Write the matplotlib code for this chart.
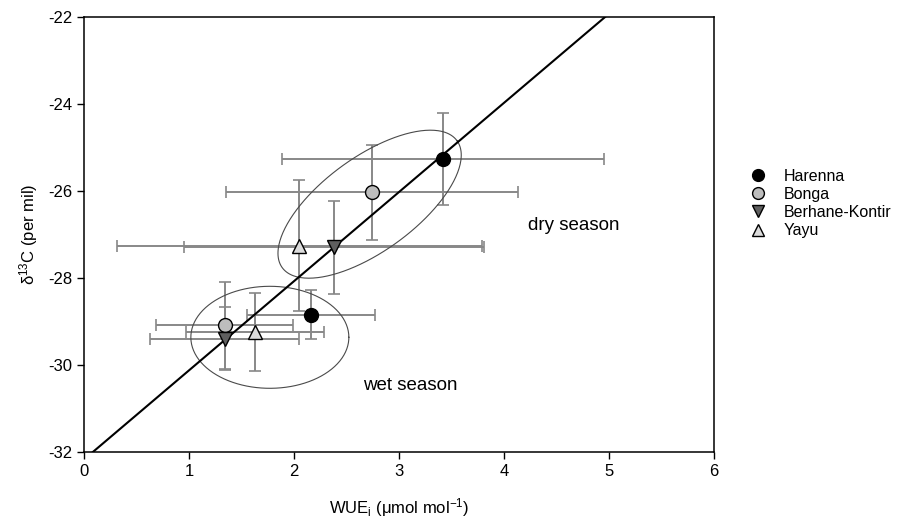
import numpy as np
import matplotlib
matplotlib.use("Agg")
import matplotlib.pyplot as plt

plt.rcParams["font.family"] = ["Liberation Sans", "DejaVu Sans"]
plt.rcParams["mathtext.fontset"] = "custom"
plt.rcParams["mathtext.rm"] = "Liberation Sans"
plt.rcParams["mathtext.it"] = "Liberation Sans"
plt.rcParams["axes.unicode_minus"] = False

# --- data ---
sites = ["Harenna", "Bonga", "Berhane-Kontir", "Yayu"]

dry_wue = [3.42, 2.74, 2.38, 2.05]
dry_wue_err = [1.53, 1.39, 1.43, 1.74]
dry_d13c = [-25.28, -26.04, -27.30, -27.26]
dry_d13c_err = [1.06, 1.09, 1.07, 1.50]

wet_wue = [2.16, 1.34, 1.34, 1.63]
wet_wue_err = [0.61, 0.65, 0.71, 0.66]
wet_d13c = [-28.85, -29.09, -29.40, -29.25]
wet_d13c_err = [0.57, 1.00, 0.72, 0.89]

# regression line
slope = 2.05
intercept = -32.18

marker_styles = {
    "Harenna": dict(marker="o", mfc="black"),
    "Bonga": dict(marker="o", mfc="#bdbdbd"),
    "Berhane-Kontir": dict(marker="v", mfc="#5f5f5f"),
    "Yayu": dict(marker="^", mfc="#dcdcdc"),
}

fig = plt.figure(figsize=(9.05, 5.25), dpi=100)
ax = fig.add_axes([0.0928, 0.1396, 0.6962, 0.8286])

# error bars
for xs, xe, ys, ye in [(dry_wue, dry_wue_err, dry_d13c, dry_d13c_err),
                       (wet_wue, wet_wue_err, wet_d13c, wet_d13c_err)]:
    ax.errorbar(xs, ys, xerr=xe, yerr=ye, fmt="none", ecolor="#888888",
                elinewidth=1.4, capsize=4, capthick=1.2, zorder=2)

# regression line
xl = np.array([0.0, 6.0])
ax.plot(xl, intercept + slope * xl, color="black", lw=1.5, zorder=3)

# season ellipses, sized in screen pixels (105 px per x unit, 43.5 px per y unit)
def ellipse(cx, cy, a_px, b_px, angle_deg):
    t = np.linspace(0, 2 * np.pi, 300)
    th = np.deg2rad(angle_deg)
    dx = a_px * np.cos(t) * np.cos(th) - b_px * np.sin(t) * np.sin(th)
    dy = a_px * np.cos(t) * np.sin(th) + b_px * np.sin(t) * np.cos(th)
    ax.plot(cx + dx / 105.0, cy + dy / 43.5, color="#4a4a4a", lw=0.8, zorder=2)

ellipse(2.72, -26.31, 108, 47, 36)
ellipse(1.77, -29.37, 79, 51, 0)

# markers
for i, s in enumerate(sites):
    st = marker_styles[s]
    ax.plot([dry_wue[i], wet_wue[i]], [dry_d13c[i], wet_d13c[i]], ls="none",
            marker=st["marker"], mfc=st["mfc"], mec="black", mew=1.0,
            ms=10, label=s, zorder=4)

ax.text(4.23, -26.81, "dry season", ha="left", va="center", fontsize=13.5)
ax.text(2.66, -30.47, "wet season", ha="left", va="center", fontsize=13.5)

ax.set_xlim(0, 6)
ax.set_ylim(-32, -22)
ax.set_xticks(range(0, 7))
ax.set_yticks(range(-32, -21, 2))
ax.tick_params(direction="out", length=5, width=1, labelsize=12)
for sp in ax.spines.values():
    sp.set_linewidth(1.1)

ax.set_xlabel(r"WUE$_\mathregular{i}$ ($\mathregular{\mu}$mol mol$^\mathregular{-1}$)",
              fontsize=12, labelpad=13)
ax.set_ylabel(r"$\mathregular{\delta^{13}}$C (per mil)", fontsize=12, labelpad=6)

ax.legend(loc="upper left", bbox_to_anchor=(1.021, 0.684), frameon=False,
          fontsize=11.5, handletextpad=0.63, labelspacing=0.2, markerscale=0.85)

fig.savefig("out.png", dpi=100)
